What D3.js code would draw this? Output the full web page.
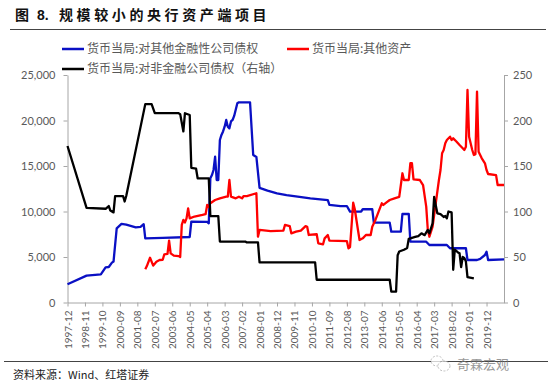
<!DOCTYPE html>
<html>
<head>
<meta charset="utf-8">
<script src="https://cdn.jsdelivr.net/npm/d3@7"></script>
<style>
body { margin: 0; background: #fff; }
svg { display: block; }
</style>
</head>
<body>
<div id="chart"></div>
<script>
var W = 554, H = 391;

// month categories of the x axis, 1997-12 .. 2020-11
var firstMonth = [1997, 12];
var monthCount = 276;

var tickLabels = ["1997-12", "1998-11", "1999-10", "2000-09", "2001-08", "2002-07", "2003-06",
	"2004-05", "2005-04", "2006-03", "2007-02", "2008-01", "2008-12", "2009-11", "2010-10",
	"2011-09", "2012-08", "2013-07", "2014-06", "2015-05", "2016-04", "2017-03", "2018-02",
	"2019-01", "2019-12"];

var leftTicks = [0, 5000, 10000, 15000, 20000, 25000];
var rightTicks = [0, 50, 100, 150, 200, 250];

var seriesNames = ["货币当局:对其他金融性公司债权", "货币当局:其他资产", "货币当局:对非金融公司债权（右轴）"];

// 货币当局:对其他金融性公司债权 (left axis)
var otherFinancial = [
	["1997-12", 2000], ["1998-12", 2950], ["1999-09", 3100], ["1999-12", 3870], ["2000-02", 3900],
	["2000-04", 4380], ["2000-05", 4500], ["2000-07", 8150], ["2000-10", 8630], ["2001-01", 8550],
	["2001-07", 8260], ["2001-10", 8300], ["2001-12", 8600], ["2002-01", 7050], ["2002-12", 7100],
	["2004-05", 7200], ["2004-06", 8880], ["2005-04", 8850], ["2005-05", 8700], ["2005-06", 13650],
	["2005-07", 14000], ["2005-08", 14560], ["2005-09", 16020], ["2005-10", 13460], ["2005-11", 13460],
	["2005-12", 17860], ["2006-01", 18410], ["2006-02", 18800], ["2006-03", 19320], ["2006-04", 20060],
	["2006-05", 19320], ["2006-06", 19140], ["2006-07", 19900], ["2006-08", 20060], ["2006-09", 20500],
	["2006-11", 21890], ["2006-12", 22000], ["2007-07", 22000], ["2007-09", 16210], ["2007-11", 16000],
	["2008-01", 12600], ["2008-06", 12300], ["2008-12", 12000], ["2009-06", 11800], ["2010-01", 11630],
	["2010-09", 11450], ["2011-08", 11260], ["2011-09", 10720], ["2012-04", 10600], ["2012-08", 10600],
	["2012-10", 9980], ["2013-05", 10000], ["2013-06", 10250], ["2013-12", 10250], ["2014-01", 8770],
	["2014-11", 8770], ["2014-12", 7780], ["2015-06", 7780], ["2015-07", 9725], ["2015-11", 9725],
	["2015-12", 6680], ["2016-10", 6680], ["2016-12", 6320], ["2017-11", 6320], ["2018-01", 5960],
	["2018-11", 5960], ["2018-12", 4670], ["2019-06", 4670], ["2019-08", 4800], ["2019-11", 5220],
	["2019-12", 5580], ["2020-01", 4670], ["2020-11", 4730]
];

// 货币当局:其他资产 (left axis)
var otherAssets = [
	["2002-01", 3650], ["2002-02", 4000], ["2002-04", 4920], ["2002-06", 4050], ["2002-08", 4480],
	["2002-10", 4670], ["2002-12", 4700], ["2003-01", 5300], ["2003-03", 5350], ["2003-04", 6800],
	["2003-05", 5400], ["2003-07", 5150], ["2003-10", 5100], ["2003-11", 5000], ["2003-12", 8520],
	["2004-01", 9070], ["2004-02", 8800], ["2004-03", 9250], ["2004-04", 10350], ["2004-05", 9250],
	["2004-08", 9450], ["2005-01", 9620], ["2005-03", 9700], ["2005-04", 10720], ["2005-05", 10500],
	["2005-06", 10900], ["2005-09", 11260], ["2005-12", 11450], ["2006-04", 11630], ["2006-05", 11630],
	["2006-06", 13460], ["2006-07", 11630], ["2006-10", 11450], ["2006-12", 11630], ["2007-02", 11450],
	["2007-03", 11700], ["2007-05", 11700], ["2007-11", 12000], ["2007-12", 7230], ["2008-01", 7970],
	["2008-08", 7850], ["2009-04", 7900], ["2009-05", 8520], ["2009-08", 8400], ["2009-09", 7600],
	["2009-12", 7780], ["2010-03", 7900], ["2010-06", 8400], ["2010-07", 8330], ["2010-08", 7420],
	["2011-01", 7500], ["2011-02", 6500], ["2011-05", 6400], ["2011-06", 7050], ["2011-08", 7420],
	["2011-09", 6800], ["2012-08", 6750], ["2012-09", 5960], ["2012-10", 6100], ["2012-12", 10970],
	["2013-01", 10250], ["2013-03", 7970], ["2013-04", 6870], ["2013-06", 7050], ["2013-08", 7420],
	["2013-11", 7420], ["2013-12", 8330], ["2014-02", 9070], ["2014-04", 9980], ["2014-06", 10900],
	["2014-07", 10720], ["2014-09", 11000], ["2014-11", 11260], ["2015-02", 11450], ["2015-05", 11600],
	["2015-07", 14200], ["2015-08", 13460], ["2015-11", 13460], ["2015-12", 15300], ["2016-01", 15300],
	["2016-02", 13540], ["2016-06", 13460], ["2016-08", 12910], ["2016-10", 10530], ["2016-11", 7970],
	["2016-12", 7230], ["2017-02", 8330], ["2017-04", 10900], ["2017-06", 13460], ["2017-07", 14560],
	["2017-08", 16400], ["2017-09", 16760], ["2017-10", 17500], ["2017-11", 17860], ["2018-01", 18220],
	["2018-02", 17860], ["2018-03", 18040], ["2018-05", 17690], ["2018-07", 17310], ["2018-09", 16950],
	["2018-10", 16760], ["2018-11", 17120], ["2018-12", 23350], ["2019-01", 18220], ["2019-03", 16760],
	["2019-04", 16210], ["2019-05", 16300], ["2019-06", 23170], ["2019-07", 16570], ["2019-08", 16210],
	["2019-09", 15850], ["2019-11", 15300], ["2019-12", 14560], ["2020-01", 14120], ["2020-06", 14000],
	["2020-07", 12910], ["2020-11", 12910]
];

// 货币当局:对非金融公司债权 (right axis)
var nonFinancial = [
	["1997-12", 172], ["1998-12", 104], ["1999-12", 103], ["2000-02", 106], ["2000-03", 101],
	["2000-05", 99], ["2000-06", 117], ["2000-11", 117], ["2000-12", 111], ["2001-01", 117],
	["2002-01", 218], ["2002-05", 218], ["2002-07", 208], ["2003-10", 208], ["2003-11", 207],
	["2004-01", 188], ["2004-02", 208], ["2004-05", 206], ["2004-06", 148], ["2004-09", 147],
	["2004-10", 136.5], ["2005-05", 136.5], ["2005-06", 95], ["2005-11", 95], ["2005-12", 67],
	["2007-04", 67], ["2007-05", 66], ["2007-12", 66], ["2008-01", 44], ["2010-12", 44],
	["2011-01", 25], ["2014-11", 25], ["2014-12", 12], ["2015-03", 12], ["2015-04", 52],
	["2015-05", 56], ["2015-08", 58], ["2015-10", 60], ["2015-11", 70], ["2016-03", 72],
	["2016-05", 73], ["2016-07", 76], ["2016-09", 74], ["2016-11", 79.7], ["2016-12", 76],
	["2017-02", 87], ["2017-03", 116], ["2017-04", 107], ["2017-05", 98], ["2017-07", 97],
	["2017-09", 94], ["2017-10", 95], ["2017-11", 92.5], ["2017-12", 100], ["2018-02", 99],
	["2018-03", 36], ["2018-04", 58], ["2018-06", 55], ["2018-07", 54], ["2018-08", 39],
	["2018-09", 50], ["2018-10", 49], ["2018-11", 45], ["2018-12", 28], ["2019-04", 26.6]
];

var blue = "#0a10c4";
var red = "#ff0000";
var black = "#000000";
var axisGray = "#a6a6a6";
var textGray = "#595959";
var font = "Lato, 'Noto Sans CJK SC', sans-serif";
var cjk = "'Noto Sans CJK SC', sans-serif";

var months = [];
for (var i = 0; i < monthCount; i++) {
	var m = firstMonth[1] - 1 + i;
	var yy = firstMonth[0] + Math.floor(m / 12);
	var mm = m % 12 + 1;
	months.push(yy + "-" + (mm < 10 ? "0" + mm : mm));
}

var plot = { left: 67.5, right: 504, top: 75, bottom: 302.5 };

var x = d3.scalePoint().domain(months).range([plot.left, plot.right]);
var yL = d3.scaleLinear().domain([0, 25000]).range([plot.bottom, plot.top]);
var yR = d3.scaleLinear().domain([0, 250]).range([plot.bottom, plot.top]);

var svg = d3.select("#chart").append("svg")
	.attr("width", W)
	.attr("height", H)
	.style("font-family", font);

// title
var title = svg.append("text")
	.attr("x", 15)
	.attr("y", 20)
	.style("font-size", "14px")
	.style("font-weight", "bold")
	.attr("fill", "#111")
	.style("font-family", cjk);

title.append("tspan").text("图");
title.append("tspan")
	.attr("x", 37)
	.style("font-family", "'Liberation Sans', Arial, sans-serif")
	.text("8.");
title.append("tspan")
	.attr("x", 59)
	.style("letter-spacing", "3.6px")
	.text("规模较小的央行资产端项目");

svg.append("line")
	.attr("x1", 10).attr("x2", 546)
	.attr("y1", 29.5).attr("y2", 29.5)
	.attr("stroke", "#444")
	.attr("stroke-width", 1.2);

// axes
var leftAxis = d3.axisLeft(yL)
	.tickValues(leftTicks)
	.tickFormat(d3.format(","))
	.tickSize(4)
	.tickSizeOuter(0)
	.tickPadding(8);

var rightAxis = d3.axisRight(yR)
	.tickValues(rightTicks)
	.tickSize(4)
	.tickSizeOuter(0)
	.tickPadding(5);

var bottomAxis = d3.axisBottom(x)
	.tickValues(tickLabels)
	.tickSize(4)
	.tickSizeOuter(0);

var gl = svg.append("g")
	.attr("transform", "translate(" + plot.left + ",0)")
	.call(leftAxis);

var gr = svg.append("g")
	.attr("transform", "translate(" + plot.right + ",0)")
	.call(rightAxis);

var gb = svg.append("g")
	.attr("transform", "translate(0," + plot.bottom + ")")
	.call(bottomAxis);

gb.selectAll("text")
	.attr("y", 0)
	.attr("x", -8)
	.attr("dy", "0.35em")
	.attr("transform", "rotate(-90)")
	.style("text-anchor", "end")
	.style("font-size", "10px");

[gl, gr, gb].forEach(function(g) {
	g.select(".domain").attr("stroke", axisGray);
	g.selectAll(".tick line").attr("stroke", axisGray);
	g.selectAll("text")
		.attr("fill", textGray)
		.style("font-family", font);
});
gl.selectAll("text").style("font-size", "11px");
gr.selectAll("text").style("font-size", "11px");

// series
var lineL = d3.line()
	.x(d => x(d[0]))
	.y(d => yL(d[1]));

var lineR = d3.line()
	.x(d => x(d[0]))
	.y(d => yR(d[1]));

svg.append("path")
	.datum(otherFinancial)
	.attr("d", lineL)
	.attr("fill", "none")
	.attr("stroke", blue)
	.attr("stroke-width", 2.3)
	.attr("stroke-linejoin", "round");

svg.append("path")
	.datum(otherAssets)
	.attr("d", lineL)
	.attr("fill", "none")
	.attr("stroke", red)
	.attr("stroke-width", 2.3)
	.attr("stroke-linejoin", "round");

svg.append("path")
	.datum(nonFinancial)
	.attr("d", lineR)
	.attr("fill", "none")
	.attr("stroke", black)
	.attr("stroke-width", 2.3)
	.attr("stroke-linejoin", "round");

// legend
var legendItems = [
	{ name: seriesNames[0], color: blue, x: 62, y: 49 },
	{ name: seriesNames[1], color: red, x: 287, y: 49 },
	{ name: seriesNames[2], color: black, x: 62, y: 69 }
];

var lg = svg.selectAll(".legend")
	.data(legendItems)
	.enter()
	.append("g")
	.attr("class", "legend")
	.attr("transform", d => "translate(" + d.x + "," + d.y + ")");

lg.append("line")
	.attr("x1", 0).attr("x2", 22)
	.attr("y1", 0).attr("y2", 0)
	.attr("stroke", d => d.color)
	.attr("stroke-width", 2.5);

lg.append("text")
	.attr("x", 25)
	.attr("y", 0)
	.attr("dy", "0.35em")
	.style("font-size", "12px")
	.style("font-family", cjk)
	.attr("fill", textGray)
	.text(d => d.name);

// footer
svg.append("line")
	.attr("x1", 4).attr("x2", 548)
	.attr("y1", 361.5).attr("y2", 361.5)
	.attr("stroke", "#444")
	.attr("stroke-width", 1);

svg.append("text")
	.attr("x", 13)
	.attr("y", 379)
	.style("font-size", "11px")
	.style("font-family", cjk)
	.attr("fill", "#222")
	.text("资料来源：Wind、红塔证券");

// watermark
var wm = svg.append("g").attr("opacity", 0.75);
wm.append("ellipse")
	.attr("cx", 437).attr("cy", 361).attr("rx", 6).attr("ry", 5)
	.attr("fill", "#fff").attr("stroke", "#aaa").attr("stroke-dasharray", "2,1.5");
wm.append("ellipse")
	.attr("cx", 444).attr("cy", 366).attr("rx", 6).attr("ry", 5)
	.attr("fill", "#fff").attr("stroke", "#aaa").attr("stroke-dasharray", "2,1.5");
wm.append("text")
	.attr("x", 457)
	.attr("y", 369)
	.style("font-size", "13px")
	.style("font-family", cjk)
	.attr("fill", "#777")
	.text("奇霖宏观");
</script>
</body>
</html>
